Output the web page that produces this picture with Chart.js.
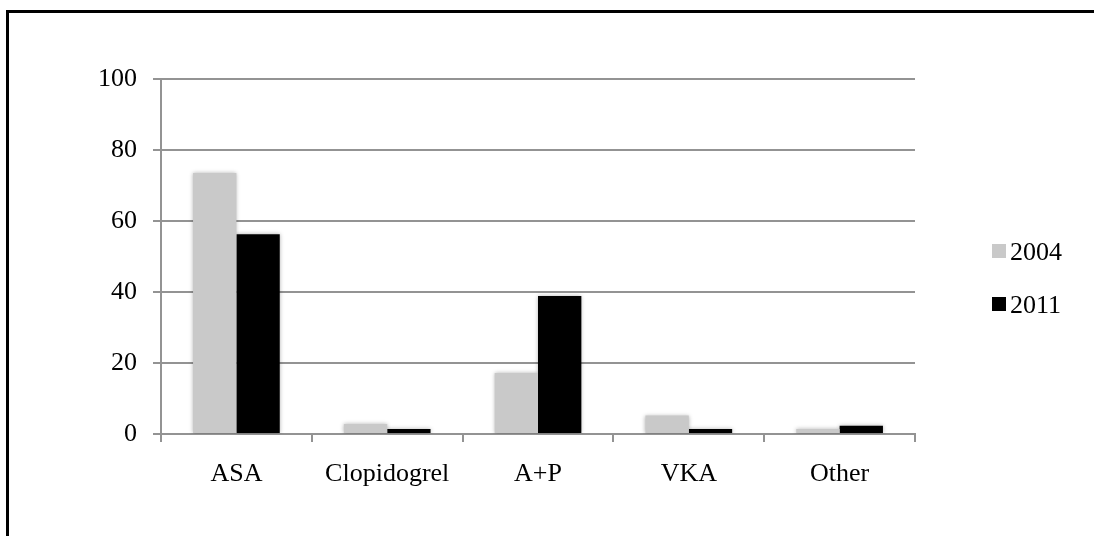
<!DOCTYPE html>
<html>
<head>
<meta charset="utf-8">
<script src="https://cdn.jsdelivr.net/npm/chart.js@4"></script>
<style>
  html, body { margin: 0; padding: 0; background: #fff; overflow: hidden; }
  #wrap { position: relative; width: 1094px; height: 536px; }
  #frame { position: absolute; left: 6px; top: 10px; width: 1200px; height: 700px; border-left: 3px solid #000; border-top: 3px solid #000; }
  #chart { position: absolute; left: 0; top: 0; }
</style>
</head>
<body>
<div id="wrap">
  <div id="frame"></div>
  <canvas id="chart" width="1094" height="536"></canvas>
</div>
<script>
const categories = ['ASA', 'Clopidogrel', 'A+P', 'VKA', 'Other'];
const years = ['2004', '2011'];
const values2004 = [73.5, 2.8, 17.2, 5.2, 1.4];
const values2011 = [56.3, 1.4, 38.9, 1.4, 2.3];
const yTicks = [0, 20, 40, 60, 80, 100];

const fontFamily = "'Liberation Serif', 'DejaVu Serif', serif";
const fontSize = 26;
const gridColor = '#939393';
const colors = ['#c9c9c9', '#000000'];

// soft shadow behind the bars, like the office chart
const barShadow = {
    id: 'barShadow',
    beforeDatasetsDraw(chart) {
        const ctx = chart.ctx;
        ctx.save();
        ctx.shadowColor = 'rgba(0,0,0,0.3)';
        ctx.shadowBlur = 4;
    },
    afterDatasetsDraw(chart) {
        chart.ctx.restore();
    }
};

// legend on the right, drawn by hand
const sideLegend = {
    id: 'sideLegend',
    afterDraw(chart) {
        const ctx = chart.ctx;
        ctx.save();
        ctx.font = fontSize + 'px ' + fontFamily;
        ctx.textBaseline = 'middle';
        chart.data.datasets.forEach((ds, i) => {
            const y = 252 + i * 53;
            ctx.fillStyle = ds.backgroundColor;
            ctx.fillRect(992, y - 8, 14, 14);
            ctx.fillStyle = '#000';
            ctx.fillText(ds.label, 1010, y + 1);
        });
        ctx.restore();
    }
};

new Chart(document.getElementById('chart'), {
    type: 'bar',
    data: {
        labels: categories,
        datasets: [
            { label: years[0], data: values2004, backgroundColor: colors[0] },
            { label: years[1], data: values2011, backgroundColor: colors[1] }
        ]
    },
    options: {
        responsive: false,
        animation: false,
        layout: { padding: { left: 0, top: 79, right: 179, bottom: 42 } },
        datasets: { bar: { categoryPercentage: 0.575, barPercentage: 1.0 } },
        plugins: { legend: { display: false }, tooltip: { enabled: false } },
        scales: {
            x: {
                afterFit: s => { s.height = 60; },
                grid: { drawOnChartArea: false, drawTicks: true, tickLength: 8, color: gridColor, lineWidth: 2, offset: true },
                border: { display: true, color: gridColor, width: 2 },
                ticks: { color: '#000', padding: 17, font: { family: fontFamily, size: fontSize } }
            },
            y: {
                min: 0,
                max: 100,
                afterFit: s => { s.width = 161; },
                afterBuildTicks: s => { s.ticks = yTicks.map(v => ({ value: v })); },
                grid: { color: gridColor, lineWidth: 2, tickLength: 8 },
                border: { display: true, color: gridColor, width: 2 },
                ticks: { color: '#000', padding: 16, font: { family: fontFamily, size: fontSize } }
            }
        }
    },
    plugins: [barShadow, sideLegend]
});
</script>
</body>
</html>
